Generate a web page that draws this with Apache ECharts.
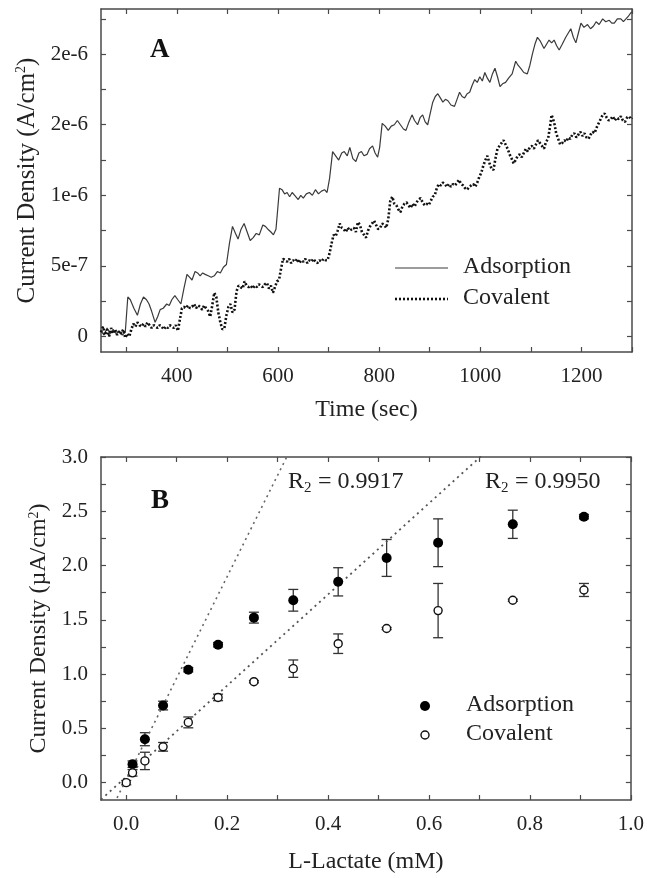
<!DOCTYPE html>
<html>
<head>
<meta charset="utf-8">
<script src="https://cdn.jsdelivr.net/npm/echarts@6/dist/echarts.min.js"></script>
<style>
  html, body { margin: 0; padding: 0; background: #fff; }
  #main { width: 647px; height: 878px; }
</style>
</head>
<body>
<div id="main"></div>
<script>
// ---- Panel A : amperometric response, current density in units of 1e-7 A/cm2 ----
var adsorptionA = [[250,0.4],[256,0.1],[262,0.6],[268,0.2],[274,0.5],[280,0.2],[286,0.4],[292,0.1],[298,0.3],[303,2.8],[308,2.6],[315,2.0],[322,1.5],[328,2.3],[334,2.8],[340,2.6],[345,2.3],[350,1.8],[357,1.0],[362,1.4],[367,1.9],[373,2.0],[380,2.3],[385,2.2],[390,2.6],[396,2.9],[402,2.6],[408,2.3],[414,3.4],[420,4.4],[425,4.2],[430,4.0],[436,4.6],[441,4.5],[446,4.3],[451,4.5],[456,4.4],[462,4.3],[468,4.2],[474,4.3],[480,4.6],[486,4.5],[492,4.9],[498,5.1],[504,6.6],[510,7.8],[516,7.3],[521,6.9],[527,7.6],[533,8.0],[539,7.4],[545,6.8],[551,7.0],[557,7.3],[563,7.2],[570,7.9],[575,7.8],[580,7.6],[586,7.4],[591,7.2],[596,7.6],[603,10.5],[608,10.4],[613,10.1],[618,10.2],[623,9.9],[628,10.2],[633,10.0],[640,9.7],[645,10.0],[650,9.8],[656,10.1],[662,10.2],[668,10.0],[674,10.4],[680,10.1],[686,10.3],[692,10.4],[697,10.2],[702,11.2],[708,13.1],[714,12.8],[720,12.5],[726,13.0],[731,13.1],[737,12.8],[742,13.4],[748,12.6],[754,12.4],[760,13.0],[765,13.1],[770,12.8],[776,12.9],[781,13.3],[787,13.5],[792,13.0],[797,12.7],[801,13.4],[806,15.1],[812,14.9],[818,14.6],[824,14.9],[830,15.0],[836,15.3],[842,15.0],[848,14.7],[853,14.6],[859,15.2],[865,15.7],[870,15.3],[876,15.0],[881,15.5],[886,15.7],[891,15.2],[896,15.0],[901,15.8],[906,16.6],[911,17.0],[916,17.2],[921,16.9],[926,16.6],[931,16.8],[936,16.7],[942,16.4],[949,16.3],[954,16.8],[959,17.3],[964,17.0],[969,16.9],[974,17.2],[979,17.3],[984,17.8],[989,18.2],[994,18.0],[999,18.4],[1004,18.1],[1009,18.7],[1014,18.3],[1019,18.0],[1024,18.6],[1029,19.0],[1034,18.4],[1039,17.7],[1044,17.9],[1050,18.0],[1056,18.3],[1063,18.6],[1070,19.5],[1075,19.2],[1080,19.0],[1086,18.7],[1093,18.6],[1098,19.2],[1103,20.0],[1108,20.7],[1113,21.2],[1119,20.9],[1126,20.4],[1131,20.7],[1136,21.0],[1141,20.8],[1146,21.0],[1151,20.6],[1156,20.3],[1162,20.7],[1169,21.2],[1174,21.5],[1179,21.8],[1184,21.2],[1189,20.8],[1194,21.5],[1199,22.2],[1205,21.9],[1212,22.1],[1218,21.8],[1224,22.0],[1229,22.3],[1235,22.1],[1242,22.5],[1248,22.3],[1255,22.4],[1260,22.2],[1265,22.2],[1271,22.5],[1278,22.5],[1283,22.3],[1288,22.5],[1293,22.7],[1297,22.9],[1300,23.0]];

var covalentA = [[250,0.3],[254,0.7],[258,0.1],[262,0.5],[266,0.0],[270,0.6],[274,0.2],[278,0.5],[282,0.1],[286,0.4],[290,0.2],[294,0.5],[298,-0.1],[302,0.2],[306,0.0],[310,0.5],[314,0.9],[318,0.7],[322,1.0],[326,0.8],[330,0.7],[334,0.9],[338,0.7],[342,1.0],[346,0.8],[350,0.6],[354,0.8],[358,0.7],[362,0.6],[366,0.8],[370,0.7],[374,0.5],[378,0.7],[382,0.6],[386,0.8],[390,0.7],[394,0.6],[398,0.8],[402,0.4],[406,1.2],[410,2.0],[414,2.1],[418,2.0],[422,2.2],[426,2.0],[430,2.1],[434,2.3],[438,2.0],[442,2.2],[446,2.1],[450,1.9],[454,2.2],[458,2.0],[462,1.8],[466,1.4],[470,2.2],[474,3.1],[478,2.8],[482,1.7],[486,1.0],[490,0.5],[494,0.6],[498,1.5],[502,2.1],[506,2.3],[510,1.7],[514,1.9],[518,3.2],[522,3.6],[526,3.5],[530,3.4],[534,3.9],[538,3.6],[542,3.5],[546,3.6],[550,3.4],[554,3.6],[558,3.5],[562,3.7],[566,3.6],[570,3.5],[574,3.7],[578,3.8],[582,3.4],[586,3.6],[590,3.1],[594,3.5],[598,3.9],[602,4.0],[606,4.8],[610,5.5],[614,5.4],[618,5.3],[622,5.5],[626,5.2],[630,5.4],[634,5.3],[638,5.5],[642,5.2],[646,5.4],[650,5.3],[654,5.5],[658,5.2],[662,5.4],[666,5.3],[670,5.5],[674,5.3],[678,5.2],[682,5.4],[686,5.3],[690,5.5],[694,5.4],[698,5.4],[702,5.9],[706,6.6],[710,7.2],[714,7.1],[718,7.5],[722,8.0],[726,7.7],[730,7.6],[734,7.4],[738,7.7],[742,7.5],[746,7.6],[750,7.7],[754,7.4],[758,8.1],[762,7.9],[766,7.4],[770,7.2],[774,7.0],[778,7.5],[782,7.8],[786,8.0],[790,8.2],[794,7.9],[798,7.6],[802,7.7],[806,8.0],[810,7.9],[814,7.7],[818,8.3],[822,9.6],[826,9.9],[830,9.4],[834,9.3],[838,9.0],[842,8.8],[846,9.2],[850,9.4],[854,9.5],[858,9.3],[862,9.1],[866,9.4],[870,9.2],[874,9.5],[878,9.7],[882,9.8],[886,9.5],[890,9.3],[894,9.4],[898,9.3],[902,9.6],[906,9.9],[910,10.0],[914,10.5],[918,10.8],[922,10.7],[926,10.9],[930,10.8],[934,10.6],[938,10.8],[942,10.6],[946,10.8],[950,10.7],[954,10.9],[958,11.1],[962,10.8],[966,10.7],[970,10.5],[974,10.4],[978,10.6],[982,10.7],[986,10.8],[990,10.6],[994,10.9],[998,11.3],[1002,11.6],[1006,12.1],[1010,12.5],[1014,12.8],[1018,12.3],[1022,11.9],[1026,11.8],[1030,12.6],[1034,13.3],[1038,13.5],[1042,13.7],[1046,13.9],[1050,13.6],[1054,13.3],[1058,12.9],[1062,12.6],[1066,12.25],[1070,12.5],[1074,12.8],[1078,12.9],[1082,12.7],[1086,13.0],[1090,13.3],[1094,13.1],[1098,13.4],[1102,13.5],[1106,13.3],[1110,13.6],[1114,13.9],[1118,13.7],[1122,13.5],[1126,13.3],[1130,13.8],[1134,14.0],[1138,14.9],[1141,15.7],[1144,15.4],[1147,15.0],[1150,14.4],[1154,14.0],[1158,13.6],[1162,13.7],[1166,13.9],[1170,13.8],[1174,14.1],[1178,14.0],[1182,14.3],[1186,14.4],[1190,14.1],[1194,14.3],[1198,14.5],[1202,14.2],[1206,14.4],[1210,14.1],[1214,14.0],[1218,14.3],[1222,14.5],[1226,14.4],[1230,14.8],[1234,15.1],[1238,15.4],[1242,15.7],[1246,15.8],[1250,15.5],[1254,15.3],[1258,15.4],[1262,15.6],[1266,15.3],[1270,15.5],[1274,15.4],[1278,15.6],[1282,15.3],[1286,15.2],[1290,15.5],[1294,15.6],[1298,15.4],[1300,15.5]];

var timeTicks = [300, 400, 500, 600, 700, 800, 900, 1000, 1100, 1200, 1300];
var timeLabels = [400, 600, 800, 1000, 1200];
var yTicksA = [0, 2.5, 5, 7.5, 10, 12.5, 15, 17.5, 20, 22.5];
var yLabelValuesA = [0, 5, 10, 15, 20];
var yLabelTextA = ['0', '5e-7', '1e-6', '2e-6', '2e-6'];

// ---- Panel B : calibration, uA/cm2 vs mM ----
var lactate = [0, 0.0125, 0.037, 0.073, 0.123, 0.182, 0.253, 0.331, 0.42, 0.516, 0.618, 0.766, 0.907];
var adsMean = [null, 0.17, 0.40, 0.71, 1.04, 1.27, 1.52, 1.68, 1.85, 2.07, 2.21, 2.38, 2.45];
var adsErr  = [null, 0.03, 0.06, 0.04, 0.02, 0.02, 0.05, 0.10, 0.13, 0.17, 0.22, 0.13, 0.02];
var covMean = [0, 0.09, 0.20, 0.33, 0.555, 0.785, 0.93, 1.05, 1.28, 1.42, 1.585, 1.68, 1.775];
var covErr  = [0.02, 0.03, 0.08, 0.04, 0.05, 0.03, 0.01, 0.08, 0.09, 0.01, 0.25, 0.01, 0.06];
var fitSlope = [9.34, 4.20];
var fitIntercept = [0.03, 0.054];
var fitR2 = ['0.9917', '0.9950'];
var xTicksB = [0, 0.1, 0.2, 0.3, 0.4, 0.5, 0.6, 0.7, 0.8, 0.9, 1.0];
var xLabelsB = [0, 0.2, 0.4, 0.6, 0.8, 1.0];
var yTicksB = [0, 0.25, 0.5, 0.75, 1, 1.25, 1.5, 1.75, 2, 2.25, 2.5, 2.75, 3];
var yLabelsB = [0, 0.5, 1, 1.5, 2, 2.5, 3];

var serif = 'Liberation Serif';
var axisColor = '#4a4a4a';
var textColor = '#222';

var chart = echarts.init(document.getElementById('main'));

function boxAxis(dir, grid, min, max, ticks, labels, pos, fmt, name, gap, nameSize) {
  var ax = {
    type: 'value', gridIndex: grid, min: min, max: max, position: pos,
    axisLine: { show: true, onZero: false, lineStyle: { color: axisColor, width: 1.5 } },
    axisTick: { show: true, inside: true, length: 5, customValues: ticks, lineStyle: { color: axisColor, width: 1.2 } },
    axisLabel: { show: !!labels, customValues: labels || [], formatter: fmt,
      fontFamily: serif, fontSize: 21, color: textColor, margin: dir === 'x' ? 14 : 13 },
    splitLine: { show: false }
  };
  if (name) {
    var fs = nameSize || 24;
    ax.name = name;
    ax.nameLocation = 'middle';
    ax.nameGap = gap;
    ax.nameTextStyle = {
      fontFamily: serif, fontSize: fs, color: textColor,
      rich: {
        t: { fontFamily: serif, fontSize: fs, color: textColor },
        sup: { fontFamily: serif, fontSize: 14, color: textColor, verticalAlign: 'top', padding: [0, 0, 10, 0] }
      }
    };
  }
  return ax;
}

function fmtA(v) {
  var i = yLabelValuesA.indexOf(Math.round(v * 10) / 10);
  return i >= 0 ? yLabelTextA[i] : '';
}
function fmtInt(v) { return String(Math.round(v)); }
function fmtX1(v) { return v.toFixed(1); }

var errAds = [], errCov = [], ptsAds = [], ptsCov = [];
lactate.forEach(function (x, i) {
  if (adsMean[i] != null) {
    ptsAds.push([x, adsMean[i]]);
    errAds.push([x, adsMean[i] - adsErr[i], adsMean[i] + adsErr[i]]);
  }
  ptsCov.push([x, covMean[i]]);
  errCov.push([x, covMean[i] - covErr[i], covMean[i] + covErr[i]]);
});

var xMinB = -0.05, xMaxB = 1.0;
function fitLine(k) {
  return [[xMinB, fitIntercept[k] + fitSlope[k] * xMinB], [xMaxB, fitIntercept[k] + fitSlope[k] * xMaxB]];
}

function renderErr(params, api) {
  var x = api.value(0);
  var lo = api.coord([x, api.value(1)]);
  var hi = api.coord([x, api.value(2)]);
  var w = 5;
  var st = { stroke: '#333', lineWidth: 1.3 };
  return {
    type: 'group',
    children: [
      { type: 'line', shape: { x1: lo[0], y1: lo[1], x2: hi[0], y2: hi[1] }, style: st },
      { type: 'line', shape: { x1: lo[0] - w, y1: lo[1], x2: lo[0] + w, y2: lo[1] }, style: st },
      { type: 'line', shape: { x1: hi[0] - w, y1: hi[1], x2: hi[0] + w, y2: hi[1] }, style: st }
    ]
  };
}

var textStyleBig = { fontFamily: serif, fontSize: 24, fill: textColor };

// "R" + subscript "2" + " = value" as three text pieces in a group
function r2Label(left, top, value) {
  return {
    type: 'group', left: left, top: top,
    children: [
      { type: 'text', x: 0, y: 0, style: { text: 'R', font: '24px "Liberation Serif"', fill: textColor } },
      { type: 'text', x: 16, y: 11, style: { text: '2', font: '15px "Liberation Serif"', fill: textColor } },
      { type: 'text', x: 24, y: 0, style: { text: ' = ' + value, font: '24px "Liberation Serif"', fill: textColor } }
    ]
  };
}

var option = {
  animation: false,
  backgroundColor: '#fff',
  grid: [
    { left: 101, top: 9, width: 531, height: 343 },
    { left: 101, top: 457, width: 531, height: 343 }
  ],
  xAxis: [
    boxAxis('x', 0, 250, 1300, timeTicks, timeLabels, 'bottom', fmtInt, 'Time (sec)', 46),
    boxAxis('x', 0, 250, 1300, timeTicks, null, 'top'),
    boxAxis('x', 1, xMinB, xMaxB, xTicksB, xLabelsB, 'bottom', fmtX1, 'L-Lactate (mM)', 50),
    boxAxis('x', 1, xMinB, xMaxB, xTicksB, null, 'top')
  ],
  yAxis: [
    boxAxis('y', 0, -1.1, 23.2, yTicksA, yLabelValuesA, 'left', fmtA, '{t|Current Density (A/cm}{sup|2}{t|)}', 56, 25),
    boxAxis('y', 0, -1.1, 23.2, yTicksA, null, 'right'),
    boxAxis('y', 1, -0.16, 3.0, yTicksB, yLabelsB, 'left', fmtX1, '{t|Current Density (µA/cm}{sup|2}{t|)}', 50),
    boxAxis('y', 1, -0.16, 3.0, yTicksB, null, 'right')
  ],
  series: [
    {
      name: 'Adsorption', type: 'line', xAxisIndex: 0, yAxisIndex: 0,
      data: adsorptionA, showSymbol: false, smooth: false,
      lineStyle: { color: '#3a3a3a', width: 1.2 }
    },
    {
      name: 'Covalent', type: 'line', xAxisIndex: 0, yAxisIndex: 0,
      data: covalentA, showSymbol: false,
      lineStyle: { color: '#111', width: 2.6, type: [2, 2] }
    },
    {
      name: 'fit1', type: 'line', xAxisIndex: 2, yAxisIndex: 2, data: fitLine(0),
      showSymbol: false, clip: true, silent: true,
      lineStyle: { color: '#666', width: 1.6, type: [2, 4] }
    },
    {
      name: 'fit2', type: 'line', xAxisIndex: 2, yAxisIndex: 2, data: fitLine(1),
      showSymbol: false, clip: true, silent: true,
      lineStyle: { color: '#555', width: 1.8, type: [2, 4] }
    },
    {
      type: 'custom', xAxisIndex: 2, yAxisIndex: 2, data: errAds,
      encode: { x: 0, y: [1, 2] }, renderItem: renderErr, z: 3
    },
    {
      type: 'custom', xAxisIndex: 2, yAxisIndex: 2, data: errCov,
      encode: { x: 0, y: [1, 2] }, renderItem: renderErr, z: 3
    },
    {
      name: 'Adsorption', type: 'scatter', xAxisIndex: 2, yAxisIndex: 2, data: ptsAds,
      symbol: 'circle', symbolSize: 10, z: 5,
      itemStyle: { color: '#000', opacity: 1 }
    },
    {
      name: 'Covalent', type: 'scatter', xAxisIndex: 2, yAxisIndex: 2, data: ptsCov,
      symbol: 'circle', symbolSize: 8, z: 5,
      itemStyle: { color: '#fff', borderColor: '#111', borderWidth: 1.4, opacity: 1 }
    }
  ],
  graphic: [
    // panel letters
    { type: 'text', left: 150, top: 37, style: { text: 'A', font: 'bold 27px "Liberation Serif"', fill: '#111' } },
    { type: 'text', left: 151, top: 488, style: { text: 'B', font: 'bold 27px "Liberation Serif"', fill: '#111' } },
    // legend A
    { type: 'line', shape: { x1: 395, y1: 268, x2: 448, y2: 268 }, style: { stroke: '#3a3a3a', lineWidth: 1.2 } },
    { type: 'line', shape: { x1: 395, y1: 299, x2: 448, y2: 299 }, style: { stroke: '#111', lineWidth: 2.6, lineDash: [2, 2] } },
    { type: 'text', left: 463, top: 255, style: Object.assign({ text: 'Adsorption' }, textStyleBig) },
    { type: 'text', left: 463, top: 286, style: Object.assign({ text: 'Covalent' }, textStyleBig) },
    // legend B
    { type: 'circle', shape: { cx: 425, cy: 706, r: 5 }, style: { fill: '#000' } },
    { type: 'circle', shape: { cx: 425, cy: 735, r: 4 }, style: { fill: '#fff', stroke: '#111', lineWidth: 1.4 } },
    { type: 'text', left: 466, top: 693, style: Object.assign({ text: 'Adsorption' }, textStyleBig) },
    { type: 'text', left: 466, top: 722, style: Object.assign({ text: 'Covalent' }, textStyleBig) },
    // R2 annotations
    r2Label(288, 470, fitR2[0]),
    r2Label(485, 470, fitR2[1])
  ]
};

chart.setOption(option);
</script>
</body>
</html>
